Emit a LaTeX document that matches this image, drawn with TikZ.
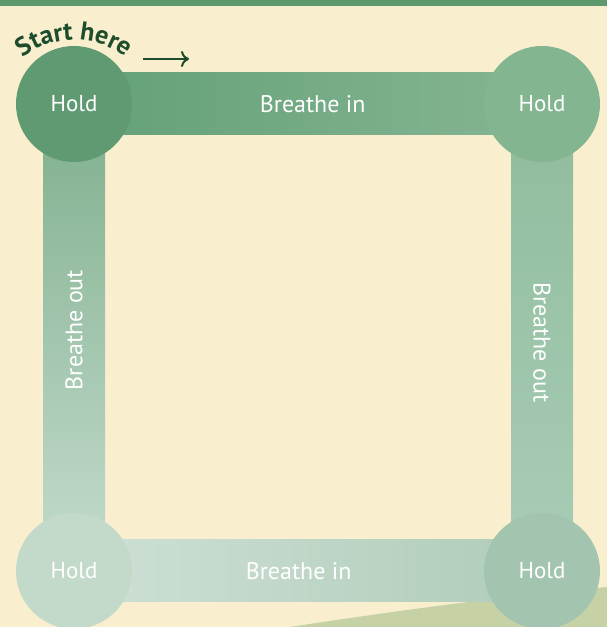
\documentclass[tikz,border=0pt]{standalone}
\usepackage{fontspec}
\setmainfont{PT Sans}
\usetikzlibrary{calc,decorations.text,arrows.meta}
\definecolor{cream}{HTML}{F9EFCF}
\definecolor{topband}{HTML}{5C9A6E}
\definecolor{hill}{HTML}{C6D1A6}
\definecolor{holdA}{HTML}{5F9A72}
\definecolor{holdB}{HTML}{82B590}
\definecolor{holdC}{HTML}{A3C4AF}
\definecolor{holdD}{HTML}{C3DACB}
\definecolor{startgreen}{HTML}{1E4D2B}

\begin{document}
\begin{tikzpicture}[x=1pt,y=1pt,
  hold/.style={circle,minimum size=116pt,inner sep=0pt,text=white,font=\fontsize{23}{26}\selectfont},
  barlabel/.style={text=white,font=\fontsize{24}{27}\selectfont}]
\useasboundingbox (0,0) rectangle (607,627);
\fill[cream] (0,0) rectangle (607,627);
\fill[topband] (0,621) rectangle (607,627);
\fill[hill] (290,0)..controls (420,20) and (520,32)..(607,40)--(607,0)--cycle;

\coordinate (tl) at (74,523);
\coordinate (tr) at (542,523);
\coordinate (br) at (542,56);
\coordinate (bl) at (74,56);

% the four bars, shaded round the square
\shade[left color={rgb,255:red,98;green,160;blue,119},right color={rgb,255:red,134;green,181;blue,147}] ($(tl)+(0,-31)$) rectangle ($(tr)+(0,31)$);
\shade[top color={rgb,255:red,143;green,188;blue,156},bottom color={rgb,255:red,169;green,205;blue,183}] ($(tr)+(-31,0)$) rectangle ($(br)+(31,0)$);
\shade[left color={rgb,255:red,207;green,224;blue,214},right color={rgb,255:red,175;green,204;blue,185}] ($(bl)+(0,-31)$) rectangle ($(br)+(0,31)$);
\shade[top color={rgb,255:red,127;green,175;blue,141},bottom color={rgb,255:red,197;green,220;blue,206}] ($(tl)+(-31,0)$) rectangle ($(bl)+(31,0)$);

\node[hold,fill=holdA] (holdtl) at (tl) {Hold};
\node[hold,fill=holdB] (holdtr) at (tr) {Hold};
\node[hold,fill=holdC] (holdbr) at (br) {Hold};
\node[hold,fill=holdD] (holdbl) at (bl) {Hold};

\node[barlabel] (intop) at ($(tl)!0.51!(tr)$) {Breathe in};
\node[barlabel,rotate=-90] (outright) at ($(tr)!0.51!(br)$) {Breathe out};
\node[barlabel] (inbottom) at ($(bl)!0.48!(br)$) {Breathe in};
\node[barlabel,rotate=90] (outleft) at ($(tl)!0.484!(bl)$) {Breathe out};

% start label and arrow
\coordinate (startarc) at ($(tl)+(0,-21)$);
\path[decorate,decoration={text along path,text align=center,
  text={|\color{startgreen}\bfseries\fontsize{26}{30}\selectfont|Start here}}]
  ($(startarc)+(134:85)$) arc[start angle=134,end angle=46,radius=85];
\coordinate (arrS) at (143,568);
\coordinate (arrE) at (189,568);
\draw[startgreen,line width=2pt,-{To[length=8pt,width=16pt]}] (arrS) -- (arrE);
\end{tikzpicture}
\end{document}
